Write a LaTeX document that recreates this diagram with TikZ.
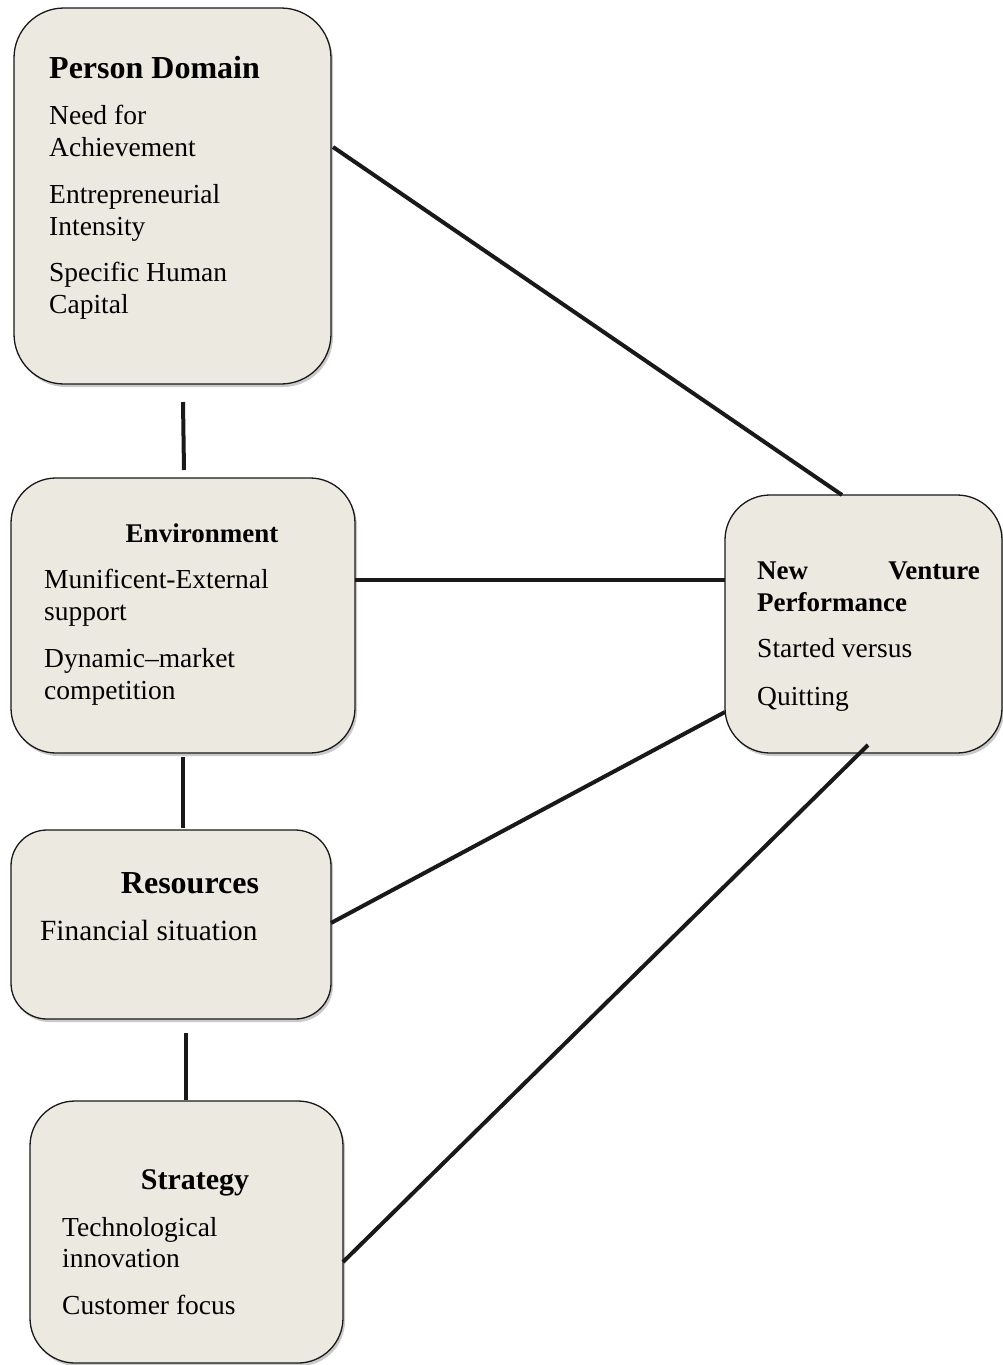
\documentclass[tikz,border=0pt]{standalone}
\usepackage{fontspec}
\setmainfont{Liberation Serif}
\usetikzlibrary{shadows}
\definecolor{boxfill}{RGB}{236,233,224}
\begin{document}
\begin{tikzpicture}[x=1pt,y=-1pt,
  box/.style={draw=black!90,line width=1.3pt,fill=boxfill,rounded corners=#1,
    drop shadow={shadow xshift=2pt,shadow yshift=-3pt,opacity=0.35,fill=black!60},inner sep=0pt},
  box/.default=45pt,
  ttl/.style={font=\fontsize{27}{32}\selectfont\bfseries,anchor=base west,inner sep=0pt},
  bigttl/.style={ttl,font=\fontsize{32}{36}\selectfont\bfseries},
  itm/.style={font=\fontsize{27.5}{32}\selectfont,anchor=base west,inner sep=0pt},
  link/.style={line width=4pt,black!90}]
\useasboundingbox (0,0) rectangle (1003,1365);
% boxes
\node[box=50pt,minimum width=317pt,minimum height=376pt] (pd) at (172.5,196) {};
\node[box,minimum width=344pt,minimum height=275pt] (env) at (183,615.5) {};
\node[box=36pt,minimum width=320pt,minimum height=189pt] (res) at (171,924.5) {};
\node[box,minimum width=313pt,minimum height=262pt] (str) at (186.5,1232) {};
\node[box,minimum width=277pt,minimum height=258pt] (nvp) at (863.5,624) {};
% texts: person domain
\node[bigttl] (pdt) at (49,78) {Person Domain};
\node[itm] (pd1) at (49,124) {Need for};
\node[itm] (pd2) at (49,156) {Achievement};
\node[itm] (pd3) at (49,203) {Entrepreneurial};
\node[itm] (pd4) at (49,235) {Intensity};
\node[itm] (pd5) at (49,281) {Specific Human};
\node[itm] (pd6) at (49,313) {Capital};
% environment
\node[ttl,anchor=base] (envt) at (202,542) {Environment};
\node[itm] (env1) at (44,588) {Munificent-External};
\node[itm] (env2) at (44,620) {support};
\node[itm] (env3) at (44,667) {Dynamic–market};
\node[itm] (env4) at (44,699) {competition};
% resources
\node[bigttl,anchor=base] (rest) at (190,893) {Resources};
\node[itm,font=\fontsize{29.3}{34}\selectfont] (res1) at (40,940) {Financial situation};
% strategy
\node[ttl,font=\fontsize{30}{34}\selectfont\bfseries,anchor=base] (strt) at (195,1189) {Strategy};
\node[itm] (str1) at (62,1236) {Technological};
\node[itm] (str2) at (62,1267) {innovation};
\node[itm] (str3) at (62,1314) {Customer focus};
% new venture performance
\node[ttl] (nvpa) at (757,579) {New};
\node[ttl,anchor=base east] (nvpb) at (980,579) {Venture};
\node[ttl] (nvpc) at (757,611) {Performance};
\node[itm] (nvp1) at (757,657) {Started versus};
\node[itm] (nvp2) at (757,705) {Quitting};
% connector end points
\coordinate (a1) at (333,147);
\coordinate (a2) at (842,495);
\coordinate (b1) at (355,580);
\coordinate (b2) at (725,580);
\coordinate (c1) at (331,923);
\coordinate (c2) at (725,712);
\coordinate (d1) at (343,1262);
\coordinate (d2) at (868,745);
\coordinate (v1) at (183,402);
\coordinate (v2) at (184,470);
\coordinate (v3) at (183,757);
\coordinate (v4) at (183,828);
\coordinate (v5) at (186,1033);
\coordinate (v6) at (186,1100);
\draw[link] (a1) -- (a2);
\draw[link] (b1) -- (b2);
\draw[link] (c1) -- (c2);
\draw[link] (d1) -- (d2);
\draw[link] (v1) -- (v2);
\draw[link] (v3) -- (v4);
\draw[link] (v5) -- (v6);
\end{tikzpicture}
\end{document}
